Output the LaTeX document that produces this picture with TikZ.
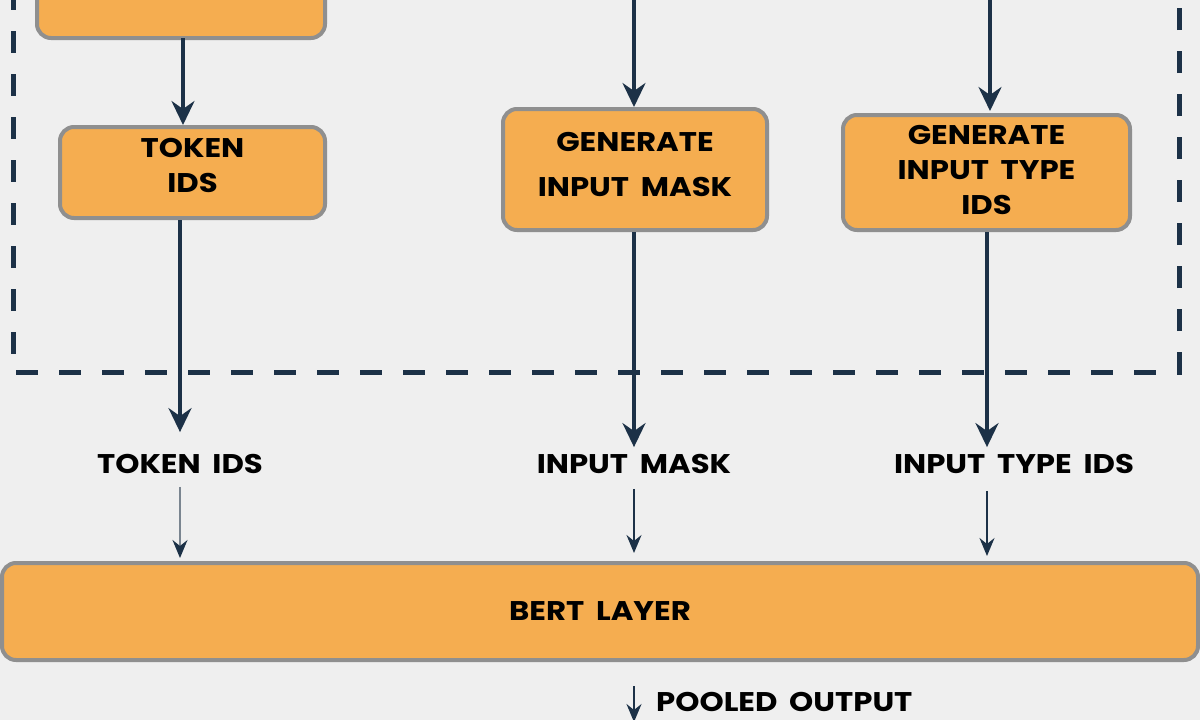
\documentclass[tikz,border=0pt]{standalone}
\usepackage{fontspec}
\setmainfont{Poppins}[FakeStretch=1.14, WordSpace=1.8]
\usetikzlibrary{arrows.meta}
\definecolor{bg}{HTML}{EFEFEF}
\definecolor{boxfill}{HTML}{F5AD50}
\definecolor{boxline}{HTML}{8F8F8F}
\definecolor{navy}{HTML}{1C3147}
\definecolor{thingray}{HTML}{7A8590}
\tikzset{
  box/.style={draw=boxline, fill=boxfill, line width=4pt, rounded corners=14pt,
    align=center, font=\fontsize{27}{35}\selectfont\bfseries, text=black, inner sep=0pt},
  lbl/.style={font=\fontsize{27}{30}\selectfont\bfseries, text=black, inner sep=0pt},
  thick arrow/.style={draw=navy, line width=3.5pt, -{Stealth[length=24pt,width=23pt,inset=8pt]}},
  thin arrow/.style={draw=navy, line width=2pt, -{Stealth[length=18pt,width=15pt,inset=6pt]}},
  frame/.style={draw=navy, line width=5pt, dash pattern=on 22pt off 21pt},
}
\begin{document}
\begin{tikzpicture}[x=1pt,y=-1pt]
\useasboundingbox[fill=bg] (0,0) rectangle (1200,720);
% dashed frame
\coordinate (fa) at (13,-12);
\coordinate (fb) at (13,372);
\coordinate (fc) at (1179,372);
\coordinate (fd) at (1179,-12);
\draw[frame] (fa) -- (fb) -- (fc) -- (fd);
% boxes
\node[box, minimum width=288pt, minimum height=100pt] (top) at (181,-12) {};
\node[box, minimum width=265pt, minimum height=91pt, text depth=14pt] (tok) at (192.5,172.5) {TOKEN\\IDS};
\node[box, minimum width=264pt, minimum height=121pt, text depth=10pt] (mask) at (635,169.5) {GENERATE\\[10pt]INPUT MASK};
\node[box, minimum width=287pt, minimum height=115pt, text depth=5pt] (type) at (986.5,172.5) {GENERATE\\INPUT TYPE\\IDS};
\node[box, minimum width=1196pt, minimum height=97pt] (bert) at (600,611.5) {BERT LAYER};
% top incoming
\coordinate (inm) at (634,-5);
\coordinate (int) at (990,-5);
\draw[thick arrow] (183,38) -- (tok.north -| 183,0);
\draw[thick arrow] (inm) -- (mask.north -| inm);
\draw[thick arrow, shorten >=2pt] (int) -- (type.north -| int);
% labels
\node[lbl] (tokl) at (180,464) {TOKEN IDS};
\node[lbl] (maskl) at (634,464) {INPUT MASK};
\node[lbl] (typel) at (1014,464) {INPUT TYPE IDS};
\draw[thick arrow, shorten >=22pt] (tok.south -| 180,0) -- (tokl.north -| 180,0);
\draw[thick arrow, shorten >=7pt] (mask.south -| 634,0) -- (maskl.north -| 634,0);
\draw[thick arrow, shorten >=7pt] (type.south -| 987,0) -- (typel.north -| 987,0);
\draw[thin arrow, draw=thingray, -{Stealth[length=18pt,width=15pt,inset=6pt,color=navy]}, shorten <=13pt, shorten >=3pt] (tokl.south) -- (bert.north -| tokl.south);
\draw[thin arrow, shorten <=15pt, shorten >=8pt] (maskl.south -| 634,0) -- (bert.north -| 634,0);
\draw[thin arrow, shorten <=17pt, shorten >=5pt] (typel.south -| 987,0) -- (bert.north -| 987,0);
% output
\coordinate (po) at (634,722);
\draw[thin arrow] (bert.south -| po) ++(0,24) -- (po);
\node[lbl, anchor=west] (pool) at (656,702) {POOLED OUTPUT};
\end{tikzpicture}
\end{document}
